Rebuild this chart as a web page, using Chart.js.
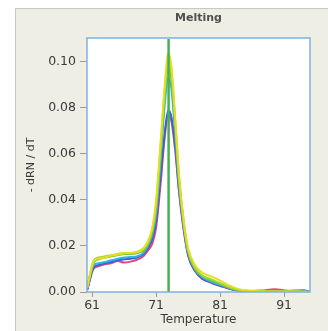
<!DOCTYPE html>
<html>
<head>
<meta charset="utf-8">
<script src="https://cdn.jsdelivr.net/npm/chart.js@4/dist/chart.umd.min.js"></script>
<style>
html,body{margin:0;padding:0;background:#fff;}
#wrap{width:328px;height:331px;position:relative;}
</style>
</head>
<body>
<div id="wrap"><canvas id="c" width="328" height="331"></canvas></div>
<script>
// ---- data ----
const chartTitle = 'Melting';
const xTitle = 'Temperature';
const yTitle = '- dRN / dT';
const xTickValues = [61, 71, 81, 91];
const yTickValues = [0, 0.02, 0.04, 0.06, 0.08, 0.10];
const temps = [60.25,61.2,62,63,64,65,66,67,68,69,69.7,70.4,71.0,71.7,72.3,72.9,73.4,74.0,74.6,75.3,76.0,77.1,78.2,79.2,80.2,81.3,82.3,83.3,84.3,85.7,87.5,89.5,91.5,93,94,95.05];
const seriesYellow = [0.002,0.013,0.0145,0.015,0.0158,0.0163,0.0168,0.017,0.0175,0.019,0.022,0.028,0.04,0.065,0.088,0.104,0.098,0.075,0.05,0.031,0.019,0.0115,0.0085,0.0072,0.006,0.0045,0.003,0.0018,0.001,0.0005,0.0003,0.0002,0.0002,0.0002,0.0001,0];
const seriesYellowGreen = [0.002,0.0135,0.015,0.0155,0.016,0.0165,0.017,0.0168,0.017,0.0185,0.021,0.027,0.038,0.063,0.086,0.1,0.095,0.074,0.05,0.031,0.018,0.0105,0.0072,0.006,0.0048,0.0035,0.0022,0.0013,0.0008,0.0004,0.0003,0.0002,0.0003,0.0002,0.0001,0];
const seriesGreen = [0.002,0.0125,0.0142,0.015,0.0155,0.016,0.0165,0.0165,0.0168,0.018,0.0205,0.026,0.036,0.06,0.083,0.097,0.092,0.071,0.048,0.03,0.0175,0.01,0.007,0.0055,0.0044,0.0032,0.002,0.0012,0.0007,0.0004,0.0003,0.0002,0.0002,0.0003,0.0002,0];
const seriesCyan = [0.002,0.0115,0.0125,0.013,0.0138,0.0145,0.015,0.0152,0.0155,0.017,0.02,0.025,0.034,0.057,0.08,0.093,0.088,0.068,0.046,0.029,0.017,0.0098,0.0065,0.005,0.0038,0.0028,0.0018,0.001,0.0006,0.0003,0.0002,0.0002,0.0002,0.0004,0.0005,0];
const seriesBlue = [0.001,0.0105,0.0118,0.0125,0.013,0.0138,0.0142,0.0145,0.015,0.0165,0.019,0.023,0.031,0.05,0.068,0.079,0.076,0.063,0.044,0.028,0.016,0.0092,0.0058,0.0045,0.0035,0.0025,0.0016,0.0009,0.0005,0.0003,0.0002,0.0003,0.0004,0.0006,0.0008,0];
const seriesRed = [0.001,0.010,0.0112,0.012,0.0125,0.0135,0.0128,0.0132,0.014,0.0155,0.018,0.021,0.028,0.047,0.066,0.077,0.074,0.061,0.043,0.027,0.016,0.009,0.0058,0.0045,0.0033,0.0024,0.0015,0.0009,0.0005,0.0004,0.0006,0.0012,0.0005,0.0003,0.0002,0];
const markerTemp = 72.95;
const markerRange = [0, 0.11];

const FONT = '"DejaVu Sans", Verdana, sans-serif';
const toPts = arr => arr.map((v, i) => ({x: temps[i], y: v}));

const panelPlugin = {
  id: 'panel',
  beforeDraw(chart) {
    const ctx = chart.ctx, a = chart.chartArea;
    ctx.save();
    ctx.fillStyle = '#fff';
    ctx.fillRect(0, 0, chart.width, chart.height);
    ctx.fillStyle = '#efeee5';
    ctx.fillRect(15, 8, chart.width - 15, chart.height - 8);
    ctx.strokeStyle = '#c9c8bf';
    ctx.lineWidth = 1;
    ctx.beginPath();
    ctx.moveTo(15.5, chart.height); ctx.lineTo(15.5, 8.5); ctx.lineTo(chart.width, 8.5);
    ctx.stroke();
    ctx.fillStyle = '#fff';
    ctx.fillRect(a.left, a.top, a.right - a.left, a.bottom - a.top);
    ctx.restore();
  },
  afterDraw(chart) {
    const ctx = chart.ctx, a = chart.chartArea;
    ctx.save();
    ctx.strokeStyle = '#7fb1de';
    ctx.lineWidth = 1.5;
    ctx.strokeRect(a.left, a.top, a.right - a.left, a.bottom - a.top);
    ctx.fillStyle = '#505050';
    ctx.font = 'bold 11px ' + FONT;
    ctx.textAlign = 'center';
    ctx.textBaseline = 'middle';
    ctx.fillText(chartTitle, (a.left + a.right) / 2, 18);
    ctx.restore();
  }
};

const line = (data, color) => ({
  data: toPts(data), borderColor: color, borderWidth: 2, pointRadius: 0,
  cubicInterpolationMode: 'monotone', fill: false
});

new Chart(document.getElementById('c'), {
  type: 'line',
  data: {
    datasets: [
      {data: [{x: markerTemp, y: markerRange[0]}, {x: markerTemp, y: markerRange[1]}], borderColor: '#45b155', borderWidth: 2.5, pointRadius: 0, fill: false},
      line(seriesYellow, '#e3df1e'),
      line(seriesYellowGreen, '#a9d532'),
      line(seriesGreen, '#6cc24a'),
      line(seriesCyan, '#2bb5e3'),
      line(seriesBlue, '#3d5fd0'),
      line(seriesRed, '#e3467e')
    ]
  },
  options: {
    responsive: false,
    animation: false,
    events: [],
    layout: {padding: {left: 0, right: 18, top: 38, bottom: 0}},
    plugins: {legend: {display: false}, tooltip: {enabled: false}, title: {display: false}},
    scales: {
      x: {
        type: 'linear', min: 60.2, max: 95.05,
        afterBuildTicks: s => { s.ticks = xTickValues.map(v => ({value: v})); },
        afterFit: s => { s.height = 39; },
        ticks: {color: '#3a3a3a', font: {size: 12.5, family: FONT}, padding: 1, maxRotation: 0,
          callback: v => String(v)},
        grid: {drawOnChartArea: false, tickLength: 5, color: '#9a9a9a'},
        border: {display: false},
        title: {display: true, text: xTitle, color: '#3a3a3a', font: {size: 12, family: FONT}, padding: {top: 0, bottom: 4}}
      },
      y: {
        type: 'linear', min: 0, max: 0.1104,
        afterBuildTicks: s => { s.ticks = yTickValues.map(v => ({value: v})); },
        afterFit: s => { s.width = 87; },
        ticks: {color: '#3a3a3a', font: {size: 12.5, family: FONT}, padding: 4,
          callback: v => v.toFixed(2)},
        grid: {drawOnChartArea: false, tickLength: 7, color: '#9a9a9a'},
        border: {display: false},
        title: {display: true, text: yTitle, color: '#3a3a3a', font: {size: 11, family: FONT}, padding: {top: 25, bottom: 0}}
      }
    }
  },
  plugins: [panelPlugin]
});
</script>
</body>
</html>
